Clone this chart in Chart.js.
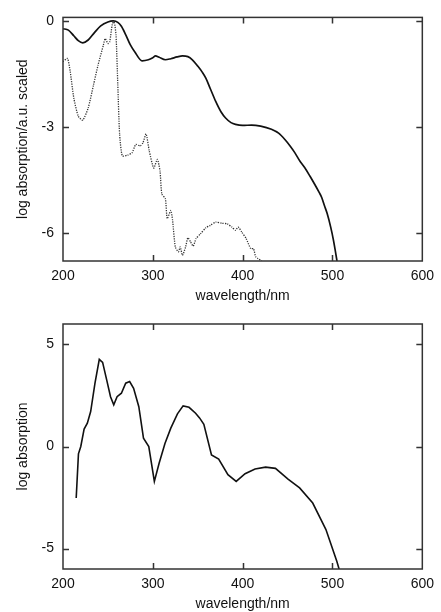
<!DOCTYPE html>
<html lang="en">
<head>
    <meta charset="UTF-8">
    <title>Absorption spectra</title>
    <script src="https://cdn.jsdelivr.net/npm/chart.js"></script>
<style>
html, body {
    margin: 0;
    padding: 0;
    background: #fff;
    overflow: hidden;
    width: 441px;
    height: 612px;
}
.panel {
    position: absolute;
    left: 0;
}
#topPanel { top: 0; }
#bottomPanel { top: 300px; }
</style>
</head>
<body>
    <canvas id="topPanel" class="panel" width="441" height="305"></canvas>
    <canvas id="bottomPanel" class="panel" width="441" height="313"></canvas>
<script>
// x axis (shared)
const xTicks = [200, 300, 400, 500, 600];

// top panel: scaled log absorption, solid curve
const topSolidNm = [200, 206, 212, 217, 222, 228, 235, 242, 250, 256, 261, 265, 270, 275, 280, 288, 295, 300, 303, 307,
    314, 320, 327, 333, 339, 344, 350, 355, 359, 364, 370, 376, 381, 387, 392, 400, 410, 420, 432, 440,
    447, 453, 458, 464, 469, 475, 480, 485, 488, 491, 494, 498, 501, 505, 508];
const topSolidVal = [-0.22, -0.26, -0.42, -0.56, -0.62, -0.54, -0.33, -0.14, -0.03, 0, -0.04, -0.15, -0.4, -0.68, -0.88, -1.13, -1.1, -1.04, -0.99, -1.03,
    -1.1, -1.07, -1.02, -0.99, -1.01, -1.1, -1.28, -1.45, -1.62, -1.92, -2.28, -2.58, -2.75, -2.88, -2.93, -2.96, -2.95, -2.98, -3.07, -3.18,
    -3.36, -3.55, -3.73, -3.98, -4.15, -4.4, -4.62, -4.85, -5.0, -5.23, -5.45, -5.84, -6.2, -6.8, -7.3];

// top panel: dotted curve
const topDotNm = [200, 205, 208, 212, 217, 222, 228, 234, 239, 245, 247, 250, 252, 255, 257, 259, 261, 263, 266, 272,
    277, 281, 286, 289, 292.5, 296, 301, 305, 308, 310, 314, 316, 320, 322, 325, 328.5, 330.5, 333, 336.5, 339,
    342, 345, 348, 353, 359, 364, 370, 377, 383, 388, 392, 395, 399, 404, 409, 412, 414.5, 417, 421, 424];
const topDotVal = [-1.15, -1.06, -1.43, -2.18, -2.7, -2.81, -2.47, -1.81, -1.25, -0.68, -0.5, -0.64, -0.59, -0.08, -0.03, -0.4, -1.8, -3.2, -3.82, -3.8,
    -3.73, -3.5, -3.54, -3.45, -3.2, -3.68, -4.17, -3.92, -4.25, -4.9, -5.04, -5.6, -5.37, -5.65, -6.4, -6.54, -6.4, -6.64, -6.4, -6.14,
    -6.26, -6.38, -6.17, -6.03, -5.86, -5.79, -5.7, -5.73, -5.75, -5.84, -5.93, -5.84, -5.98, -6.17, -6.45, -6.45, -6.68, -6.73, -6.8, -7.0];
const topYTicks = [-6, -3, 0];
const topYLabels = ['-6', '-3', '0'];

// bottom panel: log absorption
const bottomNm = [214.7, 217.2, 219.8, 223.5, 227.1, 230.8, 235.6, 240.4, 244.1, 248.5, 252.9, 256.5, 260.2, 265, 269.8, 274.2, 278.6, 284.4, 289.6, 295.5,
    301.7, 307, 313.5, 320, 327.4, 333.7, 340.3, 347.6, 352, 356.8, 365.3, 373.3, 383.6, 392.8, 402.7, 413.8, 425.5, 436.5, 450.5, 463.4,
    478, 492.7, 504.8, 510];
const bottomVal = [-2.52, -0.36, 0, 0.85, 1.14, 1.71, 3.1, 4.27, 4.12, 3.29, 2.44, 2.04, 2.44, 2.61, 3.1, 3.18, 2.85, 1.95, 0.41, 0,
    -1.71, -0.82, 0.15, 0.9, 1.6, 1.99, 1.92, 1.63, 1.4, 1.09, -0.41, -0.62, -1.38, -1.71, -1.33, -1.1, -1.01, -1.07, -1.6, -2.03,
    -2.77, -4.07, -5.62, -6.4];
const bottomYTicks = [-5, 0, 5];
const bottomYLabels = ['-5', '0', '5'];

const FONT = { family: '"Liberation Sans", Arial, sans-serif', size: 14 };

function toPoints(xs, ys) {
    return xs.map((x, i) => ({ x: x, y: ys[i] }));
}

// box round the plot with inward ticks on all four sides
const framePlugin = {
    id: 'frame',
    afterDatasetsDraw(chart) {
        const ctx = chart.ctx;
        const a = chart.chartArea;
        const xs = chart.scales.x;
        const ys = chart.scales.y;
        const len = 6;
        ctx.save();
        ctx.strokeStyle = '#333';
        ctx.lineWidth = 1.5;
        ctx.strokeRect(a.left, a.top, a.right - a.left, a.bottom - a.top);
        ctx.beginPath();
        xs.ticks.forEach(t => {
            const px = Math.round(xs.getPixelForValue(t.value)) + 0.5;
            if (px <= a.left + 2 || px >= a.right - 2) return;
            ctx.moveTo(px, a.bottom);
            ctx.lineTo(px, a.bottom - len);
            ctx.moveTo(px, a.top);
            ctx.lineTo(px, a.top + len);
        });
        ys.ticks.forEach(t => {
            const py = Math.round(ys.getPixelForValue(t.value)) + 0.5;
            ctx.moveTo(a.left, py);
            ctx.lineTo(a.left + len, py);
            ctx.moveTo(a.right, py);
            ctx.lineTo(a.right - len, py);
        });
        ctx.stroke();
        ctx.restore();
    }
};

function makeChart(id, datasets, yMin, yMax, yTicks, yLabels, yTitle, padTop) {
    return new Chart(document.getElementById(id), {
        type: 'line',
        data: { datasets: datasets },
        plugins: [framePlugin],
        options: {
            responsive: false,
            animation: false,
            events: [],
            layout: { padding: { left: 0, right: 15, top: padTop, bottom: 0 } },
            plugins: { legend: { display: false }, tooltip: { enabled: false } },
            elements: { point: { radius: 0 } },
            scales: {
                x: {
                    type: 'linear',
                    min: 200,
                    max: 600,
                    grid: { display: false, drawTicks: false },
                    border: { display: false },
                    afterBuildTicks: s => { s.ticks = xTicks.map(v => ({ value: v })); },
                    afterFit: s => { s.height = 44; },
                    ticks: { color: '#111', font: FONT, padding: 7, maxRotation: 0 },
                    title: { display: true, text: 'wavelength/nm', color: '#111', font: FONT, padding: { top: 0, bottom: 0 } }
                },
                y: {
                    type: 'linear',
                    min: yMin,
                    max: yMax,
                    grid: { display: false, drawTicks: false },
                    border: { display: false },
                    afterBuildTicks: s => { s.ticks = yTicks.map(v => ({ value: v })); },
                    afterFit: s => { s.width = 63; },
                    ticks: {
                        color: '#111',
                        font: FONT,
                        padding: 9,
                        callback: v => yLabels[yTicks.indexOf(v)]
                    },
                    title: { display: true, text: yTitle, color: '#111', font: FONT, padding: { top: 15, bottom: 0 } }
                }
            }
        }
    });
}

makeChart('topPanel', [
    {
        data: toPoints(topDotNm, topDotVal),
        borderColor: '#333',
        borderWidth: 1.3,
        borderDash: [1.2, 1.2],
        tension: 0.2
    },
    {
        data: toPoints(topSolidNm, topSolidVal),
        borderColor: '#111',
        borderWidth: 1.7,
        cubicInterpolationMode: 'monotone'
    }
], -6.8, 0.1, topYTicks, topYLabels, 'log absorption/a.u. scaled', 16);

makeChart('bottomPanel', [
    {
        data: toPoints(bottomNm, bottomVal),
        borderColor: '#111',
        borderWidth: 1.6,
        tension: 0
    }
], -6, 6, bottomYTicks, bottomYLabels, 'log absorption', 24);
</script>
</body>
</html>
